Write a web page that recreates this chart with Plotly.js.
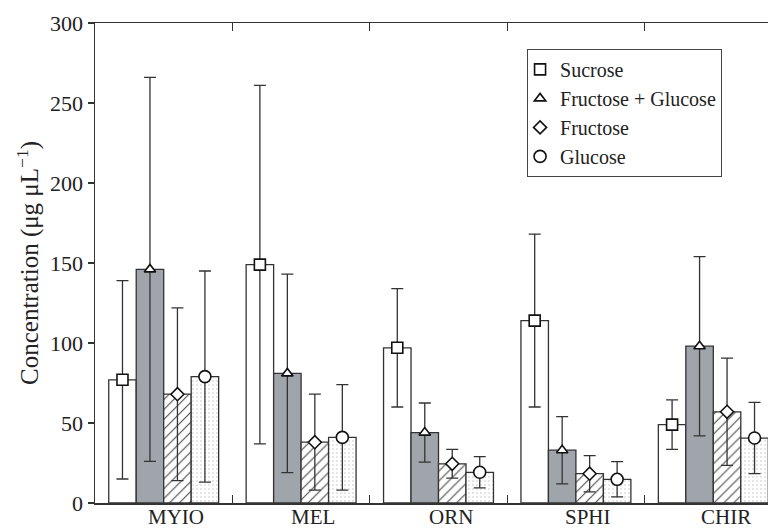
<!DOCTYPE html>
<html>
<head>
<meta charset="utf-8">
<script src="https://cdn.plot.ly/plotly-3.0.1.min.js"></script>
<style>html,body{margin:0;padding:0;background:#fff;}#chart{width:768px;height:529px;}</style>
</head>
<body>
<div id="chart"></div>
<script>
// Data
const categories = ['MYIO', 'MEL', 'ORN', 'SPHI', 'CHIR'];
const seriesNames = ['Sucrose', 'Fructose + Glucose', 'Fructose', 'Glucose'];
const sucrose      = [77, 149, 97, 114, 49];
const sucroseErr   = [62, 112, 37, 54, 15.5];
const fruGlu       = [146, 81, 44, 33, 98];
const fruGluErr    = [120, 62, 18.5, 21, 56];
const fructose     = [68, 38, 24.5, 18.3, 57];
const fructoseErr  = [54, 30, 9, 11.3, 33.5];
const glucose      = [79, 41, 19.2, 14.8, 40.6];
const glucoseErr   = [66, 33, 9.8, 11, 22.3];
const yTicks       = [0, 50, 100, 150, 200, 250, 300];

const values = [sucrose, fruGlu, fructose, glucose];
const errors = [sucroseErr, fruGluErr, fructoseErr, glucoseErr];

// Styling
const ink = '#333333';
const font = 'Liberation Serif, Times New Roman, serif';
const fs = 22;
const symbols = ['square', 'triangle-up', 'diamond', 'circle'];
const markerSizes = [11, 10, 10, 12];
const barStyles = [
  {color: '#ffffff'},
  {color: '#a0a5ab'},
  {color: '#ffffff', pattern: {shape: '/', fgcolor: '#444', bgcolor: '#ffffff', size: 7, solidity: 0.15}},
  {color: '#ffffff', pattern: {shape: '.', fgcolor: '#c4c4c4', bgcolor: '#ffffff', size: 4, solidity: 0.12}}
];
const barWidth = 0.2;
const idx = categories.map((c, i) => i);
const labelShift = 0.09;

const traces = [];
values.forEach((vals, k) => {
  const off = -0.4 + k * barWidth;
  traces.push({
    type: 'bar', x: idx, y: vals, width: barWidth, offset: off,
    marker: Object.assign({}, barStyles[k], {line: {color: ink, width: 1.3}}),
    showlegend: false, hoverinfo: 'skip'
  });
});
values.forEach((vals, k) => {
  const off = -0.4 + k * barWidth + barWidth / 2;
  traces.push({
    type: 'scatter', mode: 'markers', name: seriesNames[k],
    x: idx.map(i => i + off), y: vals,
    error_y: {type: 'data', array: errors[k], visible: true, color: ink, thickness: 1.3, width: 6},
    marker: {symbol: symbols[k], size: markerSizes[k], color: '#ffffff', line: {color: '#111', width: 1.6}},
    cliponaxis: false
  });
});

const annotations = categories.map((c, i) => ({
  text: c, x: i + labelShift, xref: 'x', y: 0, yref: 'paper',
  xanchor: 'center', yanchor: 'top', yshift: 0, showarrow: false,
  font: {family: font, size: 21, color: '#222'}
}));

const layout = {
  width: 768, height: 529,
  margin: {l: 95, r: 0, t: 23, b: 26},
  paper_bgcolor: '#ffffff', plot_bgcolor: '#ffffff',
  font: {family: font, size: fs, color: '#222'},
  barmode: 'overlay',
  showlegend: true,
  annotations: annotations,
  legend: {
    x: 0.642, y: 0.946, xanchor: 'left', yanchor: 'top',
    bgcolor: '#ffffff', bordercolor: '#444', borderwidth: 1,
    font: {family: font, size: 20, color: '#222'},
    tracegroupgap: 0, indentation: -8
  },
  xaxis: {
    range: [-0.5, 4.398], showgrid: false, zeroline: false,
    tickvals: idx.map(i => i + 0.5), ticktext: idx.map(() => ''),
    ticks: 'inside', ticklen: 8, tickwidth: 1.3, tickcolor: ink,
    showline: true, linecolor: ink, linewidth: 1.5, mirror: 'ticks'
  },
  yaxis: {
    range: [0, 300], showgrid: false, zeroline: false,
    tickvals: yTicks,
    ticks: 'outside', ticklen: 6, tickwidth: 1.3, tickcolor: ink,
    showline: true, linecolor: ink, linewidth: 1.5,
    tickfont: {family: font, size: fs, color: '#222'},
    title: {text: 'Concentration (μg μL<sup>−1</sup>)', font: {family: font, size: 25, color: '#222'}, standoff: 4}
  }
};

Plotly.newPlot('chart', traces, layout, {staticPlot: true});
</script>
</body>
</html>
